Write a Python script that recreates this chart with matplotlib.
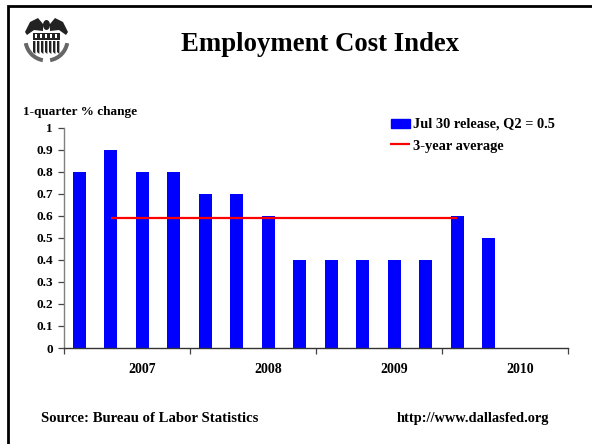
import matplotlib
matplotlib.use("Agg")
import matplotlib.pyplot as plt
from matplotlib.patches import Rectangle, Ellipse, Polygon, Wedge

plt.rcParams['font.family'] = ['Liberation Serif', 'DejaVu Serif']
plt.rcParams['font.weight'] = 'bold'

quarter_values = [0.8, 0.9, 0.8, 0.8, 0.7, 0.7, 0.6, 0.4, 0.4, 0.4, 0.4, 0.4, 0.6, 0.5]
average_value = 0.59
average_first = 1
average_last = 12
year_labels = ['2007', '2008', '2009', '2010']
y_ticks = [0, 0.1, 0.2, 0.3, 0.4, 0.5, 0.6, 0.7, 0.8, 0.9, 1]
y_tick_labels = ['0', '0.1', '0.2', '0.3', '0.4', '0.5', '0.6', '0.7', '0.8', '0.9', '1']
bar_name = 'Jul 30 release, Q2 = 0.5'
line_name = '3-year average'

W, H = 592, 444
fig = plt.figure(figsize=(W / 100, H / 100), dpi=100, facecolor='white')

ax = fig.add_axes([63.5 / W, 1 - 348 / H, 504 / W, 220 / H])
positions = list(range(len(quarter_values)))
ax.bar(positions, quarter_values, width=0.41, color='#0000ff', zorder=2)
ax.plot([average_first, average_last], [average_value, average_value],
        color='#ff0000', lw=1.6, zorder=3, solid_capstyle='butt')
ax.set_xlim(-0.5, 15.5)
ax.set_ylim(0, 1)
ax.set_yticks(y_ticks)
ax.set_yticklabels(y_tick_labels, fontsize=9.5, fontweight='bold')
ax.set_xticks([-0.5, 3.5, 7.5, 11.5, 15.5])
ax.set_xticklabels([])
for i, lab in enumerate(year_labels):
    ax.text(2 + 4 * i, -0.098, lab, ha='center', va='center', fontsize=10, fontweight='bold')
ax.tick_params(axis='both', length=4, width=0.9, color='#444444')
ax.tick_params(axis='y', pad=3.5)
ax.spines['top'].set_visible(False)
ax.spines['right'].set_visible(False)
ax.spines['left'].set_color('#808080')
ax.spines['left'].set_linewidth(1)
ax.spines['bottom'].set_color('#333333')
ax.spines['bottom'].set_linewidth(1)

ov = fig.add_axes([0, 0, 1, 1], facecolor='none')
ov.set_xlim(0, W)
ov.set_ylim(H, 0)
ov.axis('off')

# Slide frame
ov.plot([8, 8, W + 5], [H + 5, 6, 6], color='black', lw=2, solid_joinstyle='miter')

# Legend
ov.add_patch(Rectangle((391, 119), 19, 9, color='#0000ff'))
ov.plot([390, 410], [143.7, 143.7], color='#ff0000', lw=1.6, solid_capstyle='butt')
ov.text(413, 124.5, bar_name, fontsize=10.4, va='center', ha='left', fontweight='bold')
ov.text(413, 146, line_name, fontsize=10.4, va='center', ha='left', fontweight='bold')

ov.text(320, 44.5, 'Employment Cost Index', fontsize=19.3, ha='center', va='center', fontweight='bold')
ov.text(23, 112, '1-quarter % change', fontsize=9.5, ha='left', va='center', fontweight='bold')
ov.text(41, 418, 'Source: Bureau of Labor Statistics', fontsize=10.6, ha='left', va='center', fontweight='bold')
ov.text(549, 418, 'http://www.dallasfed.org', fontsize=10.4, ha='right', va='center', fontweight='bold')

# Seal emblem: wings, shield with stripes, wreath
ink = '#222222'
ov.add_patch(Polygon([(25, 32), (30, 22), (38, 18), (43, 24), (43, 31), (34, 30), (27, 35)], fc=ink))
ov.add_patch(Polygon([(68, 32), (63, 22), (55, 18), (50, 24), (50, 31), (59, 30), (66, 35)], fc=ink))
ov.add_patch(Ellipse((46.5, 25), 7, 10, fc=ink))
ov.add_patch(Rectangle((33, 33), 27, 7, fc=ink))
for xs in (35, 40, 45, 50, 55):
    ov.add_patch(Rectangle((xs, 34.5), 2.4, 3.5, fc='white'))
for xs in range(33, 60, 4):
    ov.add_patch(Polygon([(xs, 41), (xs + 2.4, 41), (xs + 2.4, 54), (xs, 52)], fc=ink))
ov.add_patch(Wedge((46.5, 39.5), 23, 10, 80, width=4, fc='#666666'))
ov.add_patch(Wedge((46.5, 39.5), 23, 100, 170, width=4, fc='#666666'))

fig.savefig('out.png', dpi=100)
